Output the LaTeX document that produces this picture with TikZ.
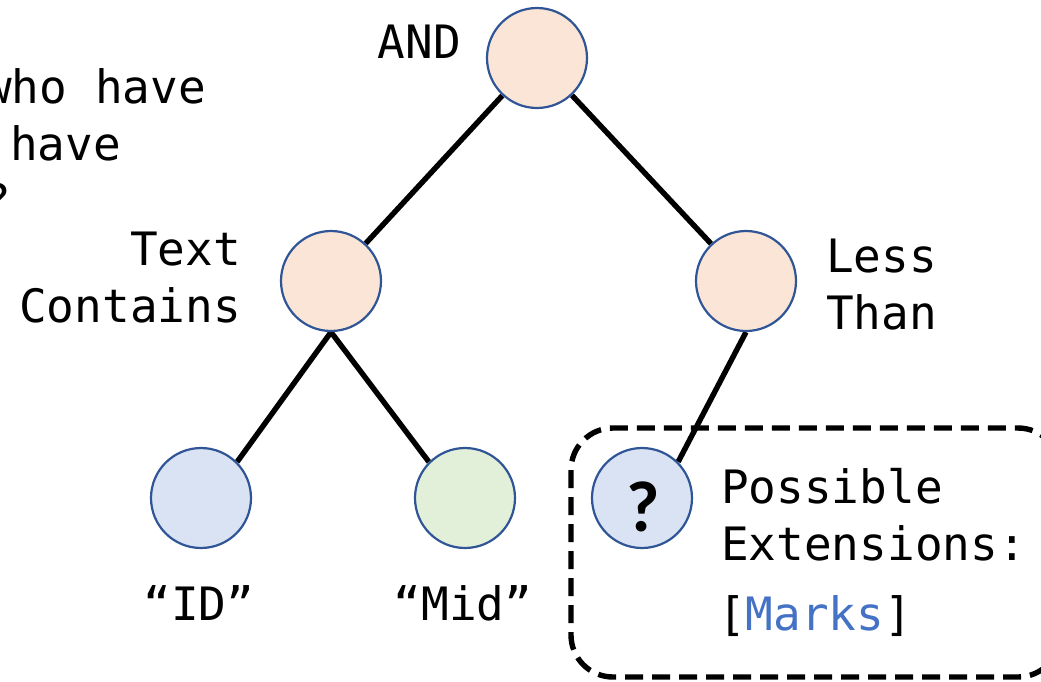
\documentclass[tikz,border=0pt]{standalone}
\usepackage{fontspec}
\setmonofont{DejaVu Sans Mono}
\newfontfamily\qfont{Carlito}
\usetikzlibrary{backgrounds}

\definecolor{peach}{HTML}{FBE5D6}
\definecolor{leafblue}{HTML}{DAE3F3}
\definecolor{leafgreen}{HTML}{E2F0D9}
\definecolor{rim}{HTML}{2F5597}
\definecolor{fieldblue}{HTML}{4472C4}

\tikzset{
  treenode/.style={circle, draw=rim, line width=2.2pt, minimum size=100pt, inner sep=0pt},
  link/.style={line width=5.4pt, black},
  lbl/.style={font=\ttfamily\fontsize{46}{57}\selectfont, inner sep=0pt},
  holebox/.style={line width=5.4pt, dash pattern=on 18pt off 9pt, rounded corners=42pt},
}

\begin{document}
\begin{tikzpicture}[x=1pt,y=-1pt]
\useasboundingbox (0,0) rectangle (1041,681);
\clip (0,0) rectangle (1041,681);

% operator and leaf circles
\node[treenode, fill=peach] (and) at (537,58) {};
\node[treenode, fill=peach] (contains) at (331,281) {};
\node[treenode, fill=peach] (less) at (746,281) {};
\node[treenode, fill=leafblue] (id) at (201,498) {};
\node[treenode, fill=leafgreen] (mid) at (465,498) {};
\node[treenode, fill=leafblue] (hole) at (642,498) {};
\node[inner sep=0pt, font=\qfont\bfseries\fontsize{72}{72}\selectfont] (qmark) at (643,507) {?};

% query text on the left
\node[lbl, anchor=base east] (q1) at (206,103) {who have};
\node[lbl, anchor=base east] (q2) at (121,160) {have};
\node[lbl, anchor=base east] (q3) at (11,217) {?};

% operator labels
\node[lbl, anchor=base east] (andlbl) at (461,58) {AND};
\node[lbl, anchor=base east] (textlbl) at (241,265) {Text};
\node[lbl, anchor=base east] (containslbl) at (241,322) {Contains};
\node[lbl, anchor=base west] (lesslbl) at (826,272) {Less};
\node[lbl, anchor=base west] (thanlbl) at (826,329) {Than};

% leaf labels
\node[lbl, anchor=base] (idlbl) at (199,620) {“ID”};
\node[lbl, anchor=base] (midlbl) at (463,620) {“Mid”};

% extension hint
\node[lbl, anchor=base west] (possible) at (721,503) {Possible};
\node[lbl, anchor=base west] (extensions) at (721,560) {Extensions:};
\node[lbl, anchor=base west] (marks) at (718,630) {[\textcolor{fieldblue}{Marks}]};

\begin{pgfonlayer}{background}
  \coordinate (boxnw) at (571,428);
  \coordinate (boxse) at (1060,677);
  \draw[holebox] (boxnw) rectangle (boxse);
  \draw[link] (and) -- (contains);
  \draw[link] (and) -- (less);
  \draw[link] (contains.south) -- (id.north east);
  \draw[link] (contains.south) -- (mid.north west);
  \draw[link] (less.south) -- (hole.north east);
\end{pgfonlayer}
\end{tikzpicture}
\end{document}
